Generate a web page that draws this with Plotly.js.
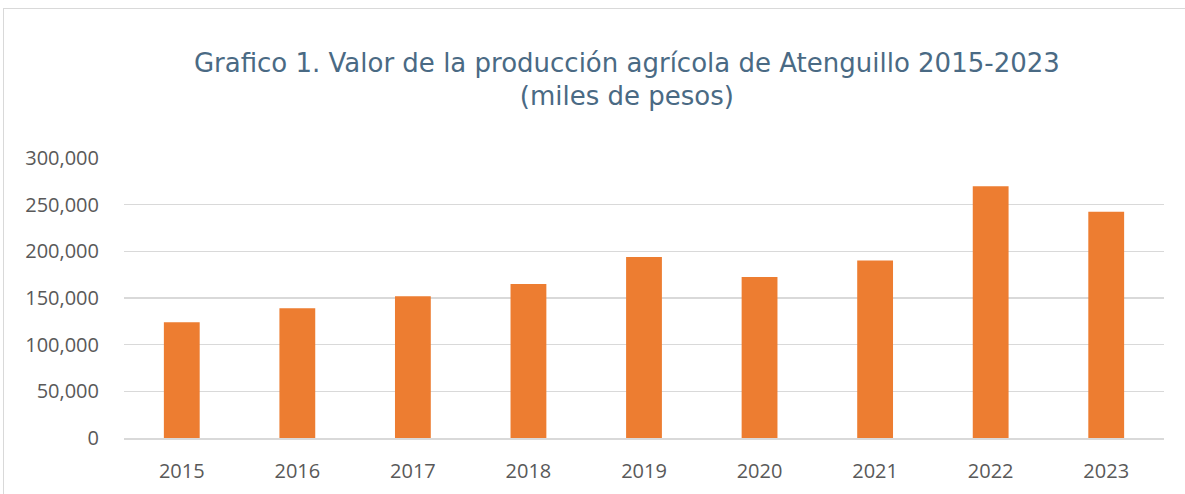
<!DOCTYPE html>
<html>
<head>
<meta charset="utf-8">
<script src="https://cdn.plot.ly/plotly-3.0.1.min.js"></script>
<style>
html,body{margin:0;padding:0;background:#fff;}
#frame{position:absolute;left:3px;top:8px;width:1300px;height:600px;border:1px solid #d9d9d9;}
#chart{position:absolute;left:0;top:0;width:1185px;height:494px;}
</style>
</head>
<body>
<div id="frame"></div>
<div id="chart"></div>
<script>
const years = ['2015','2016','2017','2018','2019','2020','2021','2022','2023'];
const values = [124000, 139000, 152000, 165000, 193800, 172500, 190300, 269800, 242300];
const yTicks = [0, 50000, 100000, 150000, 200000, 250000, 300000];
const yTickLabels = ['0','50,000','100,000','150,000','200,000','250,000','300,000'];
const titleText = 'Grafico 1. Valor de la producción agrícola de Atenguillo 2015-2023<br>(miles de pesos)';

const trace = {
  type: 'bar',
  x: years,
  y: values,
  marker: {color: '#ed7d31'},
  hoverinfo: 'none'
};

const layout = {
  width: 1185,
  height: 494,
  margin: {l: 124, r: 21, t: 158, b: 56},
  paper_bgcolor: 'rgba(0,0,0,0)',
  plot_bgcolor: 'rgba(0,0,0,0)',
  bargap: 0.69,
  showlegend: false,
  font: {family: '"Open Sans", sans-serif', color: '#595959', size: 20},
  title: {
    text: titleText,
    font: {family: '"DejaVu Sans", sans-serif', size: 26, color: '#4a6a84'},
    x: 0.529, xanchor: 'center',
    y: 0.855, yanchor: 'middle', yref: 'container'
  },
  xaxis: {
    type: 'category',
    showgrid: false,
    showline: true,
    linecolor: '#d9d9d9',
    linewidth: 1.5,
    ticks: 'outside', ticklen: 14, tickcolor: 'rgba(0,0,0,0)',
    tickfont: {size: 20, color: '#595959'},
    fixedrange: true
  },
  yaxis: {
    range: [0, 300000],
    tickvals: yTicks,
    ticktext: yTickLabels,
    showgrid: true,
    gridcolor: '#d9d9d9',
    gridwidth: 1.5,
    zeroline: false,
    showline: false,
    ticks: 'outside', ticklen: 20, tickcolor: 'rgba(0,0,0,0)',
    tickfont: {size: 20, color: '#595959'},
    fixedrange: true
  }
};

Plotly.newPlot('chart', [trace], layout, {displayModeBar: false, staticPlot: true});
</script>
</body>
</html>
